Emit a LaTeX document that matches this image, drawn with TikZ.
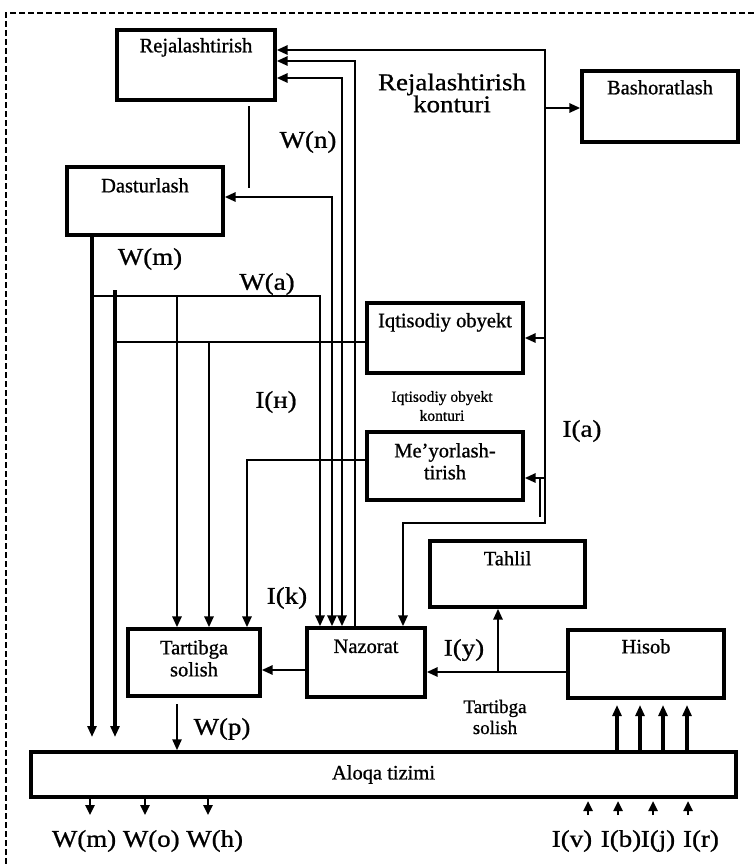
\documentclass[tikz,border=0pt]{standalone}
\usepackage{fontspec}
\setmainfont[FakeBold=0.9]{Liberation Serif}
\newfontfamily\widefont[FakeStretch=1.12,FakeBold=0.9]{Liberation Serif}
\usetikzlibrary{arrows.meta}
\begin{document}
\begin{tikzpicture}[x=1pt,y=-1pt,
  box/.style={draw, line width=3.3pt, rectangle, inner sep=0pt},
  boxtext/.style={font=\fontsize{20.5}{22}\selectfont, align=center, inner sep=0pt},
  biglab/.style={font=\widefont\fontsize{24}{22}\selectfont, align=center, inner sep=0pt},
  smalllab/.style={font=\fontsize{15.5}{19}\selectfont, align=center, inner sep=0pt},
  midlab/.style={font=\fontsize{19}{21}\selectfont, align=center, inner sep=0pt},
  conn/.style={line width=2.9pt},
  thickconn/.style={line width=3.9pt},
  thinconn/.style={line width=2.4pt},
  arr/.style={-{Triangle[length=11pt,width=9pt]}},
  arrboth/.style={{Triangle[length=11pt,width=9pt]}-{Triangle[length=11pt,width=9pt]}},
  arrsmall/.style={-{Triangle[length=10pt,width=9pt]}},
  frame/.style={line width=1.5pt, dash pattern=on 6pt off 3pt}
]
\useasboundingbox (0,0) rectangle (754,867);

% outer dashed frame
\coordinate (fTL) at (6,13);
\coordinate (fTR) at (754,13);
\coordinate (fBL) at (6,867);
\draw[frame] (fTR) -- (fTL) -- (fBL);

% blocks
\node[box, minimum width=158pt, minimum height=70pt] (rej)  at (196,65) {};
\node[box, minimum width=156pt, minimum height=71pt] (bash) at (660,106.5) {};
\node[box, minimum width=156pt, minimum height=68pt] (dast) at (145,201) {};
\node[box, minimum width=156pt, minimum height=70pt] (iqt)  at (445,338) {};
\node[box, minimum width=156pt, minimum height=68pt] (mey)  at (445,466) {};
\node[box, minimum width=155pt, minimum height=66pt] (tah)  at (507.5,574) {};
\node[box, minimum width=132pt, minimum height=67pt] (tar)  at (194,662.5) {};
\node[box, minimum width=118pt, minimum height=69pt] (naz)  at (366,662.5) {};
\node[box, minimum width=156pt, minimum height=68pt] (his)  at (646,664) {};
\node[box, minimum width=705pt, minimum height=45pt] (alo)  at (383.5,774.5) {};

% block titles
\node[boxtext] (rejT)  at ([yshift=-19pt]rej.north)  {Rejalashtirish};
\node[boxtext] (bashT) at ([yshift=-18pt]bash.north) {Bashoratlash};
\node[boxtext] (dastT) at ([yshift=-20pt]dast.north) {Dasturlash};
\node[boxtext] (iqtT)  at ([yshift=-21pt]iqt.north)  {Iqtisodiy obyekt};
\node[boxtext] (meyT)  at ([yshift=-31pt]mey.north)  {Me'yorlash-\\tirish};
\node[boxtext] (tahT)  at ([yshift=-19pt]tah.north)  {Tahlil};
\node[boxtext] (tarT)  at ([yshift=-31pt]tar.north)  {Tartibga\\solish};
\node[boxtext] (nazT)  at ([yshift=-20pt]naz.north)  {Nazorat};
\node[boxtext] (hisT)  at ([yshift=-18pt]his.north)  {Hisob};
\node[boxtext] (aloT)  at (alo.center) {Aloqa tizimi};

% planning contour loop
\coordinate (kTop)  at (545,50);
\coordinate (kBot)  at (545,523);
\coordinate (kTurn) at (403,523);
\draw[conn,arrboth] (kTop -| rej.east) -- (kTop) -- (kBot) -- (kTurn) -- (kTurn |- naz.north);
\coordinate (kB) at (545,108);
\draw[conn,arr] (kB) -- (kB -| bash.west);
\coordinate (kI) at (545,338);
\draw[conn,arr] (kI) -- (kI -| iqt.east);
\coordinate (kM) at (545,478);
\draw[conn,arr] (kM) -- (kM -| mey.east);
\coordinate (stubT) at (540,478);
\coordinate (stubB) at (540,517);
\draw[conn] (stubT) -- (stubB);

% planning to programming
\coordinate (r1) at (249,106);
\coordinate (r2) at (249,188);
\draw[thinconn] (r1) -- (r2);

% control feedback lines
\coordinate (d1) at (332,197);
\draw[conn,arrboth] (d1 -| dast.east) -- (d1) -- (d1 |- naz.north);
\coordinate (e1) at (342,78);
\draw[conn,arrboth] (e1 -| rej.east) -- (e1) -- (e1 |- naz.north);
\coordinate (e2) at (355,61);
\draw[conn,arr] (e2 |- naz.north) -- (e2) -- (e2 -| rej.east);

% programming outputs
\coordinate (dm) at (92,737);
\draw[thickconn,arr] (dast.south -| dm) -- (dm);
\coordinate (wa0) at (92,296);
\coordinate (wa1) at (320,296);
\draw[conn,arr] (wa0) -- (wa1) -- (wa1 |- naz.north);
\coordinate (wb) at (177,296);
\draw[conn,arr] (wb) -- (wb |- tar.north);

% economic object outputs
\coordinate (io)  at (115,342);
\coordinate (ioT) at (115,290);
\coordinate (ioB) at (115,737);
\draw[conn] (io -| iqt.west) -- (io);
\draw[thickconn,arr] (ioT) -- (ioB);
\coordinate (ib) at (209,342);
\draw[conn,arr] (ib) -- (ib |- tar.north);

% norm setting output
\coordinate (mo) at (247,460);
\draw[conn,arr] (mo -| mey.west) -- (mo) -- (mo |- tar.north);

% control, regulation, accounting, analysis
\coordinate (nt) at (280,670);
\draw[conn,arr] (nt -| naz.west) -- (nt -| tar.east);
\coordinate (hn) at (498,672);
\draw[conn,arr] (hn -| his.west) -- (hn -| naz.east);
\draw[conn,arr] (hn) -- (hn |- tah.south);

% regulation to communication system
\coordinate (wp0) at (177,704);
\draw[thinconn,arr] (wp0) -- (wp0 |- alo.north);

% communication system to accounting
\foreach \xx [count=\i] in {617,640,663,687} {
  \coordinate (ah\i) at (\xx,705);
  \draw[thickconn,arr] (ah\i |- alo.north) -- (ah\i);
}
% outgoing flows
\foreach \xx [count=\i] in {90,145,208} {
  \coordinate (ao\i) at (\xx,815);
  \draw[thinconn,arrsmall] (ao\i |- alo.south) -- (ao\i);
}
% incoming flows
\foreach \xx [count=\i] in {588,618,653,688} {
  \coordinate (ai\i) at (\xx,815);
  \coordinate (aj\i) at (\xx,801);
  \draw[thinconn,arrsmall] (ai\i) -- (aj\i);
}

% labels
\node[biglab] (lRk) at (452,93) {Rejalashtirish\\konturi};
\node[biglab] (lWn) at (308,142) {W(n)};
\node[biglab] (lWm) at (150,259) {W(m)};
\node[biglab] (lWa) at (267,284) {W(a)};
\node[biglab] (lIn) at (276,402) {I(н)};
\node[biglab] (lIa) at (582,431) {I(a)};
\node[biglab] (lIk) at (287,598) {I(k)};
\node[biglab] (lIy) at (464,650) {I(y)};
\node[biglab] (lWp) at (222,729) {W(p)};
\node[smalllab] (lIo) at (442,406) {Iqtisodiy obyekt\\konturi};
\node[midlab] (lTs) at (495,717) {Tartibga\\solish};
\node[biglab] (lWout) at (147.5,841) {W(m) W(o) W(h)};
\node[biglab] (lIv) at (572,841) {I(v)};
\node[biglab] (lIb) at (621,841) {I(b)};
\node[biglab] (lIj) at (658,841) {I(j)};
\node[biglab] (lIr) at (701,841) {I(r)};
\end{tikzpicture}
\end{document}
